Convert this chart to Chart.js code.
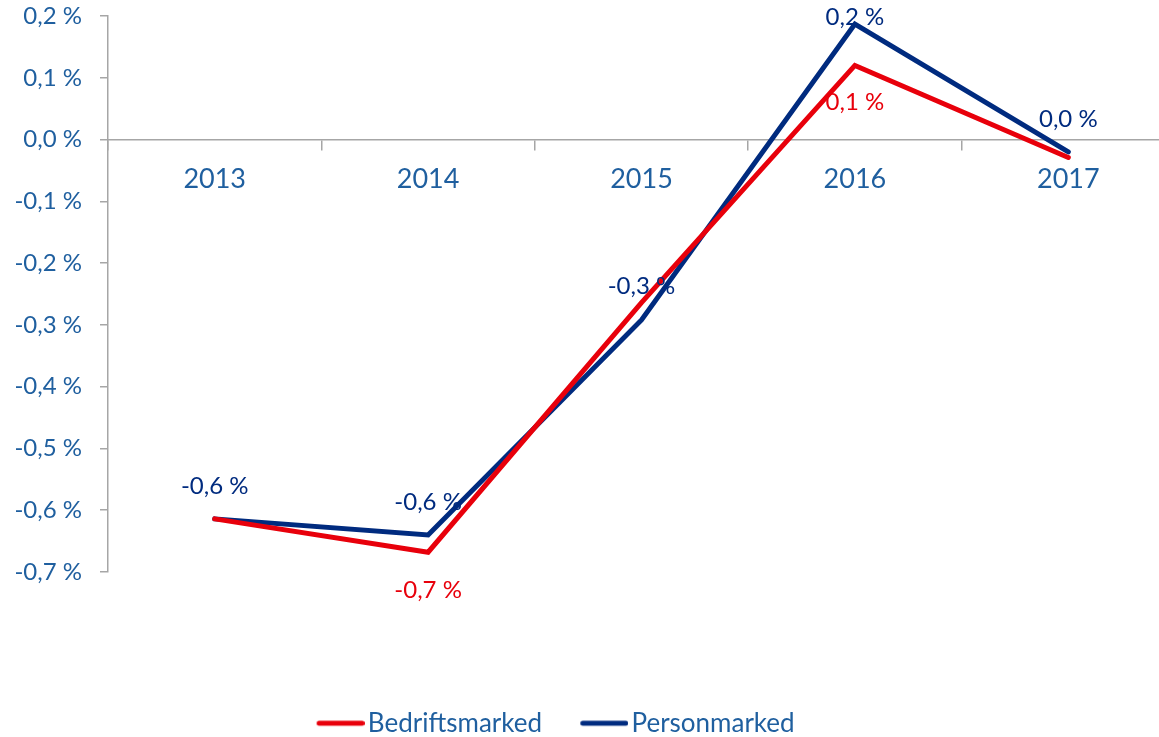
<!DOCTYPE html>
<html><head><meta charset="utf-8">
<script src="https://cdn.jsdelivr.net/npm/chart.js@4/dist/chart.umd.min.js"></script>
<style>
html,body{margin:0;padding:0;background:#fff;overflow:hidden;width:1159px;height:737px;}
#wrap{position:absolute;left:-64px;top:0;width:1239px;height:774px;}
</style></head>
<body>
<div id="wrap"><canvas id="c"></canvas></div>
<script>
const categories = ['2013','2014','2015','2016','2017'];
const bedriftsmarked = [-0.614, -0.668, -0.264, 0.120, -0.029];
const personmarked   = [-0.614, -0.640, -0.292, 0.187, -0.020];
const seriesNames = ['Bedriftsmarked','Personmarked'];
const yTicks = [0.2, 0.1, 0.0, -0.1, -0.2, -0.3, -0.4, -0.5, -0.6, -0.7];

const RED = '#E8000B', NAVY = '#002B7F', TXT = '#1F5F9F', AX = '#A6A6A6';
const FONT = 'Lato';

// which value labels are shown (Excel hides overlapping ones): [dataset, index, dy]
const shownLabels = [
  [1,0,-33],[1,1,-33],[0,1,38],[1,2,-34],[0,3,37],[1,3,-7],[1,4,-33]
];

function fmt(v){ return v.toFixed(1).replace('.', ',').replace(/^-0,0$/,'0,0') + ' %'; }

function legendSample(color){
  const c = document.createElement('canvas');
  c.width = 58; c.height = 8;
  const g = c.getContext('2d');
  g.strokeStyle = color; g.lineWidth = 5; g.lineCap = 'round';
  g.beginPath(); g.moveTo(12.5, 4); g.lineTo(55.5, 4); g.stroke();
  return c;
}

const valueLabels = {
  id: 'valueLabels',
  afterDatasetsDraw(chart){
    const ctx = chart.ctx;
    ctx.save();
    ctx.font = '24px ' + FONT;
    ctx.textAlign = 'center';
    ctx.textBaseline = 'middle';
    shownLabels.forEach(([d,i,dy])=>{
      const pt = chart.getDatasetMeta(d).data[i];
      const v = chart.data.datasets[d].data[i];
      ctx.fillStyle = chart.data.datasets[d].borderColor;
      ctx.fillText(fmt(v), pt.x, pt.y + dy);
    });
    ctx.restore();
  }
};

new Chart(document.getElementById('c'), {
  type: 'line',
  data: {
    labels: categories,
    datasets: [
      {label: seriesNames[0], data: bedriftsmarked, borderColor: RED, backgroundColor: RED,
       borderWidth: 5, pointRadius: 0, tension: 0, borderCapStyle: 'round', borderJoinStyle: 'miter',
       pointStyle: legendSample(RED)},
      {label: seriesNames[1], data: personmarked, borderColor: NAVY, backgroundColor: NAVY,
       borderWidth: 5, pointRadius: 0, tension: 0, borderCapStyle: 'round', borderJoinStyle: 'miter',
       pointStyle: legendSample(NAVY)}
    ]
  },
  options: {
    responsive: true,
    maintainAspectRatio: false,
    animation: false,
    layout: {padding: {left: 0, right: 0, top: 0, bottom: 0}},
    plugins: {
      tooltip: {enabled: false},
      legend: {
        position: 'bottom',
        title: {display: true, text: '', font: {size: 1}, padding: {top: 99, bottom: 0}},
        labels: {
          usePointStyle: true, pointStyleWidth: 38.5, padding: 38,
          color: TXT, font: {family: FONT, size: 26}
        }
      }
    },
    scales: {
      x: {
        position: {y: 0},
        offset: true,
        grid: {display: true, drawOnChartArea: false, offset: true, color: AX, tickLength: 10, lineWidth: 1.5},
        border: {display: true, color: AX, width: 1.5},
        ticks: {color: TXT, font: {family: FONT, size: 27}, padding: 14, maxRotation: 0}
      },
      y: {
        min: -0.7, max: 0.2,
        afterBuildTicks(scale){ scale.ticks = yTicks.map(v=>({value:v})); },
        afterFit(scale){ scale.width = 172; scale.paddingTop = 16; scale.paddingBottom = 774 - 572; },
        grid: {display: true, drawOnChartArea: false, color: AX, tickLength: 8, lineWidth: 1.5},
        border: {display: true, color: AX, width: 1.5},
        ticks: {color: TXT, font: {family: FONT, size: 24}, padding: 18,
                callback: v => fmt(v)}
      }
    }
  },
  plugins: [valueLabels]
});
</script>
</body></html>
